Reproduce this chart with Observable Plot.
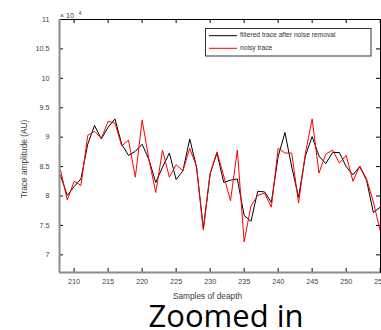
<!DOCTYPE html>
<html><head><meta charset="utf-8">
<script src="https://cdn.jsdelivr.net/npm/d3@7"></script>
<script src="https://cdn.jsdelivr.net/npm/@observablehq/plot@0.6"></script>
<style>
body{margin:0;background:#fff;}
#chart{position:relative;width:381px;height:330px;overflow:hidden;background:#fff;}
</style></head><body><div id="chart"></div>
<script>
// Samples of depth (x) and trace amplitudes in units of 10^4 (y)
const samples = [208,209,210,211,212,213,214,215,216,217,218,219,220,221,222,223,224,225,226,227,228,229,230,231,232,233,234,235,236,237,238,239,240,241,242,243,244,245,246,247,248,249,250,251,252,253,254,255];
const filtered = [8.35,8.01,8.16,8.29,8.88,9.20,8.97,9.17,9.31,8.88,8.69,8.76,8.88,8.62,8.23,8.49,8.73,8.28,8.43,8.97,8.49,7.45,8.38,8.73,8.23,8.27,8.29,7.67,7.57,8.08,8.07,7.89,8.67,9.08,8.49,7.98,8.68,9.01,8.68,8.55,8.74,8.74,8.50,8.36,8.50,8.27,7.72,7.81];
const noisy = [8.44,7.93,8.25,8.18,9.03,9.10,8.98,9.27,9.24,8.85,8.95,8.32,9.29,8.62,8.06,8.78,8.32,8.53,8.43,8.81,8.50,7.42,8.38,8.75,8.34,7.92,8.78,7.22,7.83,8.01,8.05,7.81,8.81,8.73,8.73,7.88,8.72,9.31,8.39,8.71,8.78,8.56,8.69,8.25,8.51,8.29,7.90,7.41];
const xTicks = [210,215,220,225,230,235,240,245,250,255];
const yTicks = [7,7.5,8,8.5,9,9.5,10,10.5,11];
const seriesNames = ["filtered trace after noise removal","noisy trace"];
const seriesColors = ["#000000","#ff0000"];
const xTitle = "Samples of deapth";
const yTitle = "Trace amplitude (AU)";
const caption = "Zoomed in";

const filteredRows = samples.map((s,i)=>({sample:s, value:filtered[i]}));
const noisyRows = samples.map((s,i)=>({sample:s, value:noisy[i]}));

const W=381, H=330, mL=59, mR=1, mT=19, mB=58;
const xDomain=[207.85,255.05], yDomain=[6.7,11];
const plotW=W-mL-mR, plotH=H-mT-mB;
const font="'Liberation Sans', Arial, sans-serif";

const plot = Plot.plot({
  width:W, height:H, marginLeft:mL, marginRight:mR, marginTop:mT, marginBottom:mB,
  style:{fontFamily:font, fontSize:"7.2px", color:"#404040", background:"#fff", overflow:"visible"},
  x:{domain:xDomain, label:null},
  y:{domain:yDomain, label:null},
  marks:[
    Plot.axisX(xTicks, {anchor:"bottom", tickSize:0, tickPadding:6, tickFormat:d=>String(d), label:null}),
    Plot.axisY(yTicks, {anchor:"left", tickSize:0, tickPadding:10, tickFormat:d=>String(d), label:null}),
    Plot.tickX(xTicks, {x:d=>d, insetTop:plotH-4, stroke:"#000"}),
    Plot.tickX(xTicks, {x:d=>d, insetBottom:plotH-4, stroke:"#000"}),
    Plot.tickY(yTicks, {y:d=>d, insetRight:plotW-4, stroke:"#000"}),
    Plot.tickY(yTicks, {y:d=>d, insetLeft:plotW-4, stroke:"#000"}),
    Plot.line(filteredRows, {x:"sample", y:"value", stroke:seriesColors[0], strokeWidth:1}),
    Plot.line(noisyRows, {x:"sample", y:"value", stroke:seriesColors[1], strokeWidth:1}),
    Plot.frame({stroke:"#000"}),
    Plot.ruleX([xDomain[0]], {stroke:"#8c8c8c", strokeWidth:2}),
    Plot.ruleY([yDomain[0]], {stroke:"#8c8c8c", strokeWidth:2})
  ]
});
document.getElementById("chart").appendChild(plot);

const svg = d3.select(plot);
// exponent label
svg.append("text").attr("x",60).attr("y",17.5).attr("text-anchor","start").attr("font-family",font).attr("font-size","7px").attr("fill","#404040").text("× 10");
svg.append("text").attr("x",78.5).attr("y",14.5).attr("text-anchor","start").attr("font-family",font).attr("font-size","5.5px").attr("fill","#404040").text("4");
// axis titles
svg.append("text").attr("x",207.5).attr("y",298.5).attr("text-anchor","middle").attr("font-family",font).attr("font-size","8.3px").attr("fill","#404040").text(xTitle);
svg.append("text").attr("transform","translate(26.5,159) rotate(-90)").attr("text-anchor","middle").attr("font-family",font).attr("font-size","8.3px").attr("fill","#404040").text(yTitle);
// caption
svg.append("text").attr("x",226).attr("y",326.5).attr("text-anchor","middle").attr("font-family","'Open Sans', sans-serif").attr("font-size","31px").attr("fill","#000").text(caption);
// legend
const lg = svg.append("g");
lg.append("rect").attr("x",205.5).attr("y",28.5).attr("width",165.5).attr("height",27.5).attr("fill","#fff").attr("stroke","#333").attr("stroke-width",1);
const rowsY=[35.7,48.3];
seriesNames.forEach((name,i)=>{
  lg.append("line").attr("x1",209).attr("x2",237).attr("y1",rowsY[i]).attr("y2",rowsY[i]).attr("stroke",seriesColors[i]).attr("stroke-width",1);
  lg.append("text").attr("x",240).attr("y",rowsY[i]+1.2).attr("text-anchor","start").attr("font-family",font).attr("font-size","6.7px").attr("fill","#333").text(name);
});
</script></body></html>
